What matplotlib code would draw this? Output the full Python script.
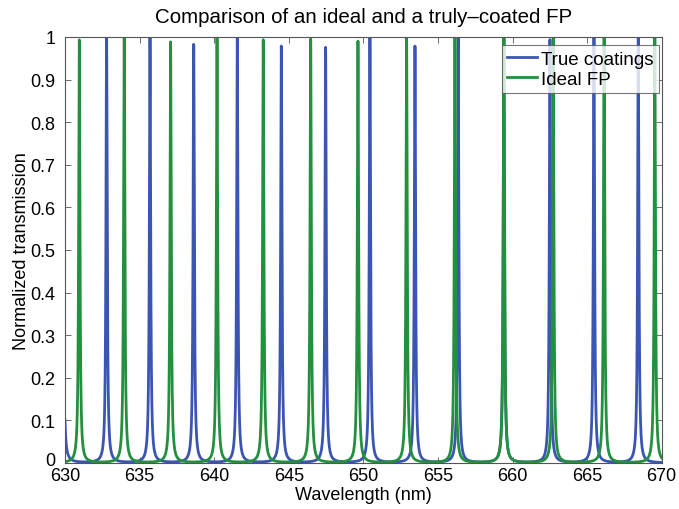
import numpy as np
import matplotlib
matplotlib.use("Agg")
import matplotlib.pyplot as plt
import matplotlib.transforms as mtransforms

plt.rcParams['font.family'] = ['Liberation Sans', 'DejaVu Sans']

# Peak data (centre wavelength in nm, peak transmission)
true_centers = [629.85, 632.79, 635.70, 638.63, 641.55, 644.50, 647.47, 650.44,
                653.46, 656.36, 659.42, 662.51, 665.46, 668.43]
true_heights = [1.0, 1.0, 1.0, 0.982, 1.0, 0.978, 0.975, 1.0,
                0.978, 1.0, 1.0, 0.993, 1.0, 1.0]
ideal_centers = [630.96, 633.97, 637.08, 640.19, 643.29, 646.47, 649.64,
                 652.90, 656.14, 659.42, 662.73, 666.14, 669.54]
ideal_heights = [0.993, 1.0, 0.988, 1.0, 0.993, 0.995, 0.99,
                 1.0, 1.0, 1.0, 1.0, 1.0, 1.0]
true_hwhm = 0.05
ideal_hwhm = 0.05

xticks = [630, 635, 640, 645, 650, 655, 660, 665, 670]
yticks = [0, 0.1, 0.2, 0.3, 0.4, 0.5, 0.6, 0.7, 0.8, 0.9, 1]
ytick_labels = ['0', '0.1', '0.2', '0.3', '0.4', '0.5', '0.6', '0.7', '0.8', '0.9', '1']

wl = np.linspace(629.0, 671.0, 20001)


def spectrum(centers, heights, g):
    s = np.zeros_like(wl)
    for c, h in zip(centers, heights):
        s += h / (1.0 + ((wl - c) / g) ** 2)
    return s


blue = '#3b55b3'
green = '#23903f'

fig = plt.figure(figsize=(6.79, 5.10), dpi=100)
ax = fig.add_axes([0.0957, 0.0902, 0.8788, 0.8353])
ax.plot(wl, spectrum(true_centers, true_heights, true_hwhm), color=blue, lw=2.0,
        label='True coatings')
ax.plot(wl, spectrum(ideal_centers, ideal_heights, ideal_hwhm), color=green, lw=2.0,
        label='Ideal FP')
ax.set_xlim(630, 670)
ax.set_ylim(0, 1)
ax.set_xticks(xticks)
ax.set_yticks(yticks)
ax.set_yticklabels(ytick_labels)
ax.tick_params(direction='in', top=True, right=True, labelsize=13,
               length=4, width=0.6, color='#555555')
ax.tick_params(axis='x', pad=3)
ax.tick_params(axis='y', pad=7)
# nudge the "0" y label up slightly so it sits just above "630"
lab0 = ax.get_yticklabels()[0]
lab0.set_transform(lab0.get_transform() +
                   mtransforms.ScaledTranslation(0, 3 / 72, fig.dpi_scale_trans))
for sp in ax.spines.values():
    sp.set_color('#555555')
    sp.set_linewidth(0.8)
ax.set_title('Comparison of an ideal and a truly\u2013coated FP', fontsize=14.8, pad=11)
ax.set_xlabel('Wavelength (nm)', fontsize=13, labelpad=1)
ax.set_ylabel('Normalized transmission', fontsize=13, labelpad=0)
leg = ax.legend(loc='upper right', bbox_to_anchor=(0.9955, 0.981), fontsize=13.5,
                frameon=True, fancybox=False, edgecolor='#555555',
                handlelength=1.6, handletextpad=0.2, borderpad=0.3,
                labelspacing=0.15, borderaxespad=0.0)
leg.get_frame().set_linewidth(0.8)
fig.savefig('out.png', dpi=100)
